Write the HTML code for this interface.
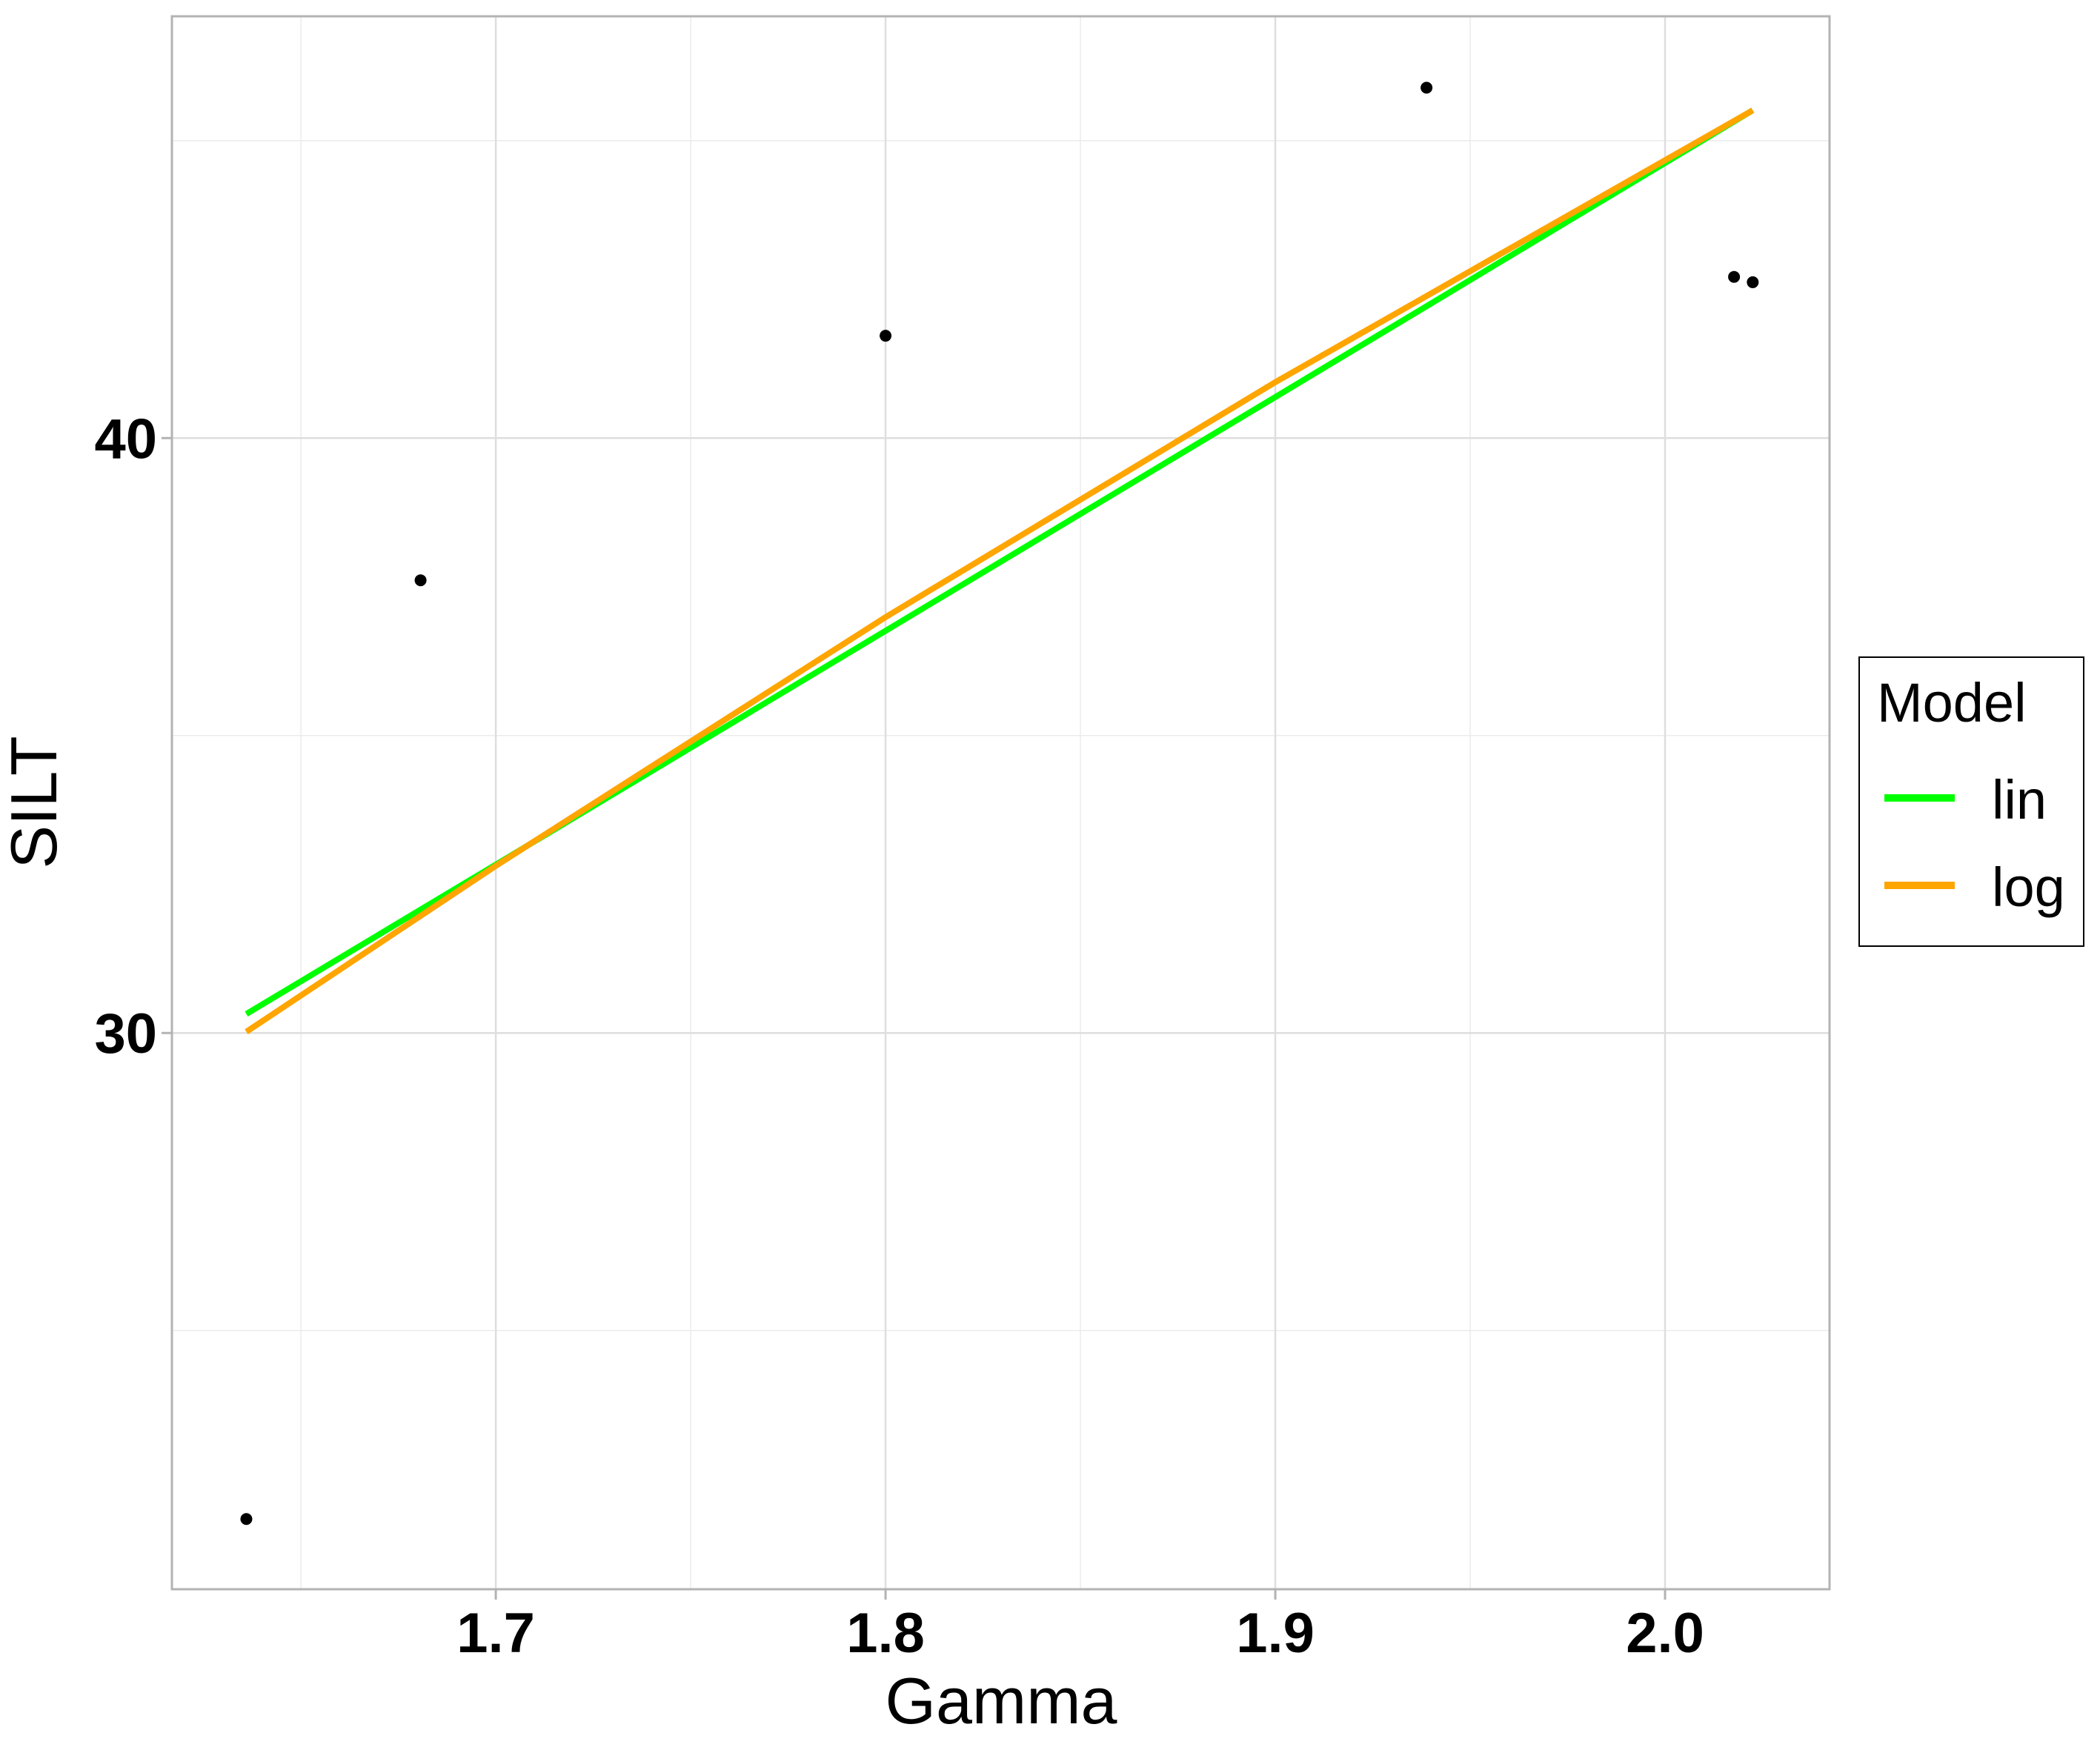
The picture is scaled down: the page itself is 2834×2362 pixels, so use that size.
<!DOCTYPE html>
<html><head><meta charset="utf-8"><style>
html,body{margin:0;padding:0;background:#fff;}
svg{display:block;font-family:"Liberation Sans",Arial,sans-serif;}
</style></head><body>
<svg id="chart" width="2834" height="2362" viewBox="0 0 2834 2362" xmlns="http://www.w3.org/2000/svg">
<rect width="2834" height="2362" fill="#fff"/>
<g id="grid"></g>
<g id="lines"></g>
<g id="points"></g>
<rect x="232" y="22" width="2237" height="2123" fill="none" stroke="#b3b3b3" stroke-width="3"/>
<g id="axes"></g>
<text x="1351" y="2326" font-size="88" text-anchor="middle">Gamma</text>
<text x="0" y="0" font-size="88" text-anchor="middle" transform="translate(76,1083) rotate(-90)">SILT</text>
<g>
<rect x="2509" y="887" width="303" height="390" fill="#fff" stroke="#000" stroke-width="2"/>
<text x="2533" y="974" font-size="74">Model</text>
<line x1="2543" x2="2638" y1="1077" y2="1077" stroke="#00ff00" stroke-width="10"/>
<text x="2688" y="1105" font-size="74">lin</text>
<line x1="2543" x2="2638" y1="1195" y2="1195" stroke="#ffa500" stroke-width="10"/>
<text x="2688" y="1223" font-size="74">log</text>
</g>
</svg>
<script>
const gammaPts = [1.636, 1.6807, 1.80, 1.9388, 2.0177, 2.0225];
const siltPts = [21.83, 37.61, 41.72, 45.89, 42.71, 42.62];
const lineX = [1.636, 1.7, 1.8, 1.9, 2.0225];
const linY = [30.32, 32.83, 36.76, 40.69, 45.51];
const logY = [30.02, 32.81, 36.99, 40.94, 45.51];
const xTicks = [1.7, 1.8, 1.9, 2.0];
const xTickLabels = ["1.7", "1.8", "1.9", "2.0"];
const xMinor = [1.65, 1.75, 1.85, 1.95];
const yTicks = [30, 40];
const yTickLabels = ["30", "40"];
const yMinor = [25, 35, 45];

const X0=232, X1=2469, Y0=22, Y1=2145;
const xMin=1.6169, xMax=2.0422, yMin=20.65, yMax=47.09;
const sx = v => X0 + (v - xMin) / (xMax - xMin) * (X1 - X0);
const sy = v => Y1 - (v - yMin) / (yMax - yMin) * (Y1 - Y0);
const NS = "http://www.w3.org/2000/svg";
function mk(tag, parent, attrs){const e=document.createElementNS(NS,tag);for(const k in attrs)e.setAttribute(k,attrs[k]);parent.appendChild(e);return e;}
const grid=document.getElementById('grid'), axes=document.getElementById('axes');
xMinor.forEach(v=>{const l=mk('line',grid,{x1:sx(v),x2:sx(v),y1:Y0,y2:Y1,stroke:'#ebebeb','stroke-width':1.5});

});
yMinor.forEach(v=>{const l=mk('line',grid,{x1:X0,x2:X1,y1:sy(v),y2:sy(v),stroke:'#ebebeb','stroke-width':1.5});

});
xTicks.forEach((v,i)=>{const l=mk('line',grid,{x1:sx(v),x2:sx(v),y1:Y0,y2:Y1,stroke:'#dedede','stroke-width':2.5});


const t=mk('line',axes,{x1:sx(v),x2:sx(v),y1:Y1,y2:Y1+14,stroke:'#b3b3b3','stroke-width':3});


const tx=mk('text',axes,{x:sx(v),y:2230,'font-size':76,'font-weight':'bold','text-anchor':'middle'});tx.textContent=xTickLabels[i];

});
yTicks.forEach((v,i)=>{const l=mk('line',grid,{x1:X0,x2:X1,y1:sy(v),y2:sy(v),stroke:'#dedede','stroke-width':2.5});


const t=mk('line',axes,{x1:X0-14,x2:X0,y1:sy(v),y2:sy(v),stroke:'#b3b3b3','stroke-width':3});


const tx=mk('text',axes,{x:212,y:sy(v)+27,'font-size':76,'font-weight':'bold','text-anchor':'end'});tx.textContent=yTickLabels[i];

});
const lines=document.getElementById('lines');
const linPath=mk('polyline',lines,{points:lineX.map((x,i)=>sx(x)+','+sy(linY[i])).join(' '),fill:'none',stroke:'#00ff00','stroke-width':8});


const logPath=mk('polyline',lines,{points:lineX.map((x,i)=>sx(x)+','+sy(logY[i])).join(' '),fill:'none',stroke:'#ffa500','stroke-width':8});


const pts=document.getElementById('points');
gammaPts.forEach((g,i)=>{const c=mk('circle',pts,{cx:sx(g),cy:sy(siltPts[i]),r:8,fill:'#000'});

});
</script>
</body></html>
